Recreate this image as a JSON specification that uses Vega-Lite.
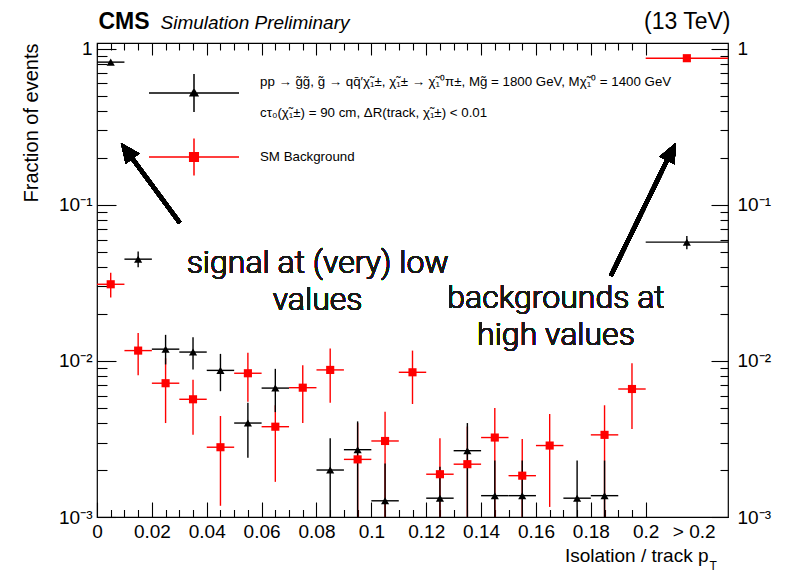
{
  "$schema": "https://vega.github.io/schema/vega-lite/v6.json",
  "width": 631,
  "height": 474,
  "autosize": {"type": "none"},
  "padding": {"left": 97, "top": 43, "right": 58, "bottom": 55},
  "background": "white",
  "config": {
    "view": {"stroke": "black", "strokeWidth": 1.2},
    "axis": {"grid": false, "domain": false, "labelFont": "Liberation Sans", "titleFont": "Liberation Sans", "labelColor": "black", "titleColor": "black", "tickColor": "black", "tickWidth": 1.1},
    "legend": {"labelFont": "Liberation Sans"}
  },
  "data": {
    "values": [
      {"series": "background", "x": 0.005, "xlo": 0.0, "xhi": 0.01, "y": 0.031, "ylo": 0.0255, "yhi": 0.0368},
      {"series": "background", "x": 0.015, "xlo": 0.01, "xhi": 0.02, "y": 0.01165, "ylo": 0.0081, "yhi": 0.0151},
      {"series": "background", "x": 0.025, "xlo": 0.02, "xhi": 0.03, "y": 0.0072, "ylo": 0.004, "yhi": 0.0104},
      {"series": "background", "x": 0.035, "xlo": 0.03, "xhi": 0.04, "y": 0.00568, "ylo": 0.00336, "yhi": 0.00758},
      {"series": "background", "x": 0.045, "xlo": 0.04, "xhi": 0.05, "y": 0.0028, "ylo": 0.00118, "yhi": 0.00444},
      {"series": "background", "x": 0.055, "xlo": 0.05, "xhi": 0.06, "y": 0.00834, "ylo": 0.00548, "yhi": 0.0113},
      {"series": "background", "x": 0.065, "xlo": 0.06, "xhi": 0.07, "y": 0.00379, "ylo": 0.00168, "yhi": 0.0052},
      {"series": "background", "x": 0.075, "xlo": 0.07, "xhi": 0.08, "y": 0.00674, "ylo": 0.004, "yhi": 0.0094},
      {"series": "background", "x": 0.085, "xlo": 0.08, "xhi": 0.09, "y": 0.00876, "ylo": 0.0054, "yhi": 0.012},
      {"series": "background", "x": 0.095, "xlo": 0.09, "xhi": 0.1, "y": 0.00234, "ylo": 0.0008, "yhi": 0.004},
      {"series": "background", "x": 0.105, "xlo": 0.1, "xhi": 0.11, "y": 0.00307, "ylo": 0.0008, "yhi": 0.00473},
      {"series": "background", "x": 0.115, "xlo": 0.11, "xhi": 0.12, "y": 0.00846, "ylo": 0.0053, "yhi": 0.01165},
      {"series": "background", "x": 0.125, "xlo": 0.12, "xhi": 0.13, "y": 0.00188, "ylo": 0.0008, "yhi": 0.0032},
      {"series": "background", "x": 0.135, "xlo": 0.13, "xhi": 0.14, "y": 0.00218, "ylo": 0.0008, "yhi": 0.0038},
      {"series": "background", "x": 0.145, "xlo": 0.14, "xhi": 0.15, "y": 0.00323, "ylo": 0.0008, "yhi": 0.005},
      {"series": "background", "x": 0.155, "xlo": 0.15, "xhi": 0.16, "y": 0.00184, "ylo": 0.0008, "yhi": 0.00316},
      {"series": "background", "x": 0.165, "xlo": 0.16, "xhi": 0.17, "y": 0.00287, "ylo": 0.00116, "yhi": 0.00457},
      {"series": "background", "x": 0.185, "xlo": 0.18, "xhi": 0.19, "y": 0.00336, "ylo": 0.0008, "yhi": 0.0052},
      {"series": "background", "x": 0.195, "xlo": 0.19, "xhi": 0.2, "y": 0.00661, "ylo": 0.00366, "yhi": 0.00967},
      {"series": "background", "x": 0.215, "xlo": 0.2, "xhi": 0.23, "y": 0.871, "ylo": 0.86, "yhi": 0.882},
      {"series": "signal", "x": 0.005, "xlo": 0.0, "xhi": 0.01, "y": 0.822, "ylo": 0.81, "yhi": 0.835},
      {"series": "signal", "x": 0.015, "xlo": 0.01, "xhi": 0.02, "y": 0.0449, "ylo": 0.0398, "yhi": 0.0502},
      {"series": "signal", "x": 0.025, "xlo": 0.02, "xhi": 0.03, "y": 0.0119, "ylo": 0.0095, "yhi": 0.0147},
      {"series": "signal", "x": 0.035, "xlo": 0.03, "xhi": 0.04, "y": 0.0114, "ylo": 0.0088, "yhi": 0.0142},
      {"series": "signal", "x": 0.045, "xlo": 0.04, "xhi": 0.05, "y": 0.0087, "ylo": 0.0064, "yhi": 0.0111},
      {"series": "signal", "x": 0.055, "xlo": 0.05, "xhi": 0.06, "y": 0.004, "ylo": 0.0024, "yhi": 0.0054},
      {"series": "signal", "x": 0.065, "xlo": 0.06, "xhi": 0.07, "y": 0.0067, "ylo": 0.0047, "yhi": 0.0089},
      {"series": "signal", "x": 0.085, "xlo": 0.08, "xhi": 0.09, "y": 0.002, "ylo": 0.0008, "yhi": 0.0032},
      {"series": "signal", "x": 0.095, "xlo": 0.09, "xhi": 0.1, "y": 0.0027, "ylo": 0.0008, "yhi": 0.0041},
      {"series": "signal", "x": 0.105, "xlo": 0.1, "xhi": 0.11, "y": 0.00127, "ylo": 0.0008, "yhi": 0.0022},
      {"series": "signal", "x": 0.125, "xlo": 0.12, "xhi": 0.13, "y": 0.00132, "ylo": 0.0008, "yhi": 0.0021},
      {"series": "signal", "x": 0.135, "xlo": 0.13, "xhi": 0.14, "y": 0.00266, "ylo": 0.0008, "yhi": 0.004},
      {"series": "signal", "x": 0.145, "xlo": 0.14, "xhi": 0.15, "y": 0.00137, "ylo": 0.0008, "yhi": 0.0023},
      {"series": "signal", "x": 0.155, "xlo": 0.15, "xhi": 0.16, "y": 0.00137, "ylo": 0.0008, "yhi": 0.0023},
      {"series": "signal", "x": 0.175, "xlo": 0.17, "xhi": 0.18, "y": 0.00132, "ylo": 0.0008, "yhi": 0.0023},
      {"series": "signal", "x": 0.185, "xlo": 0.18, "xhi": 0.19, "y": 0.00137, "ylo": 0.0008, "yhi": 0.0023},
      {"series": "signal", "x": 0.215, "xlo": 0.2, "xhi": 0.23, "y": 0.0577, "ylo": 0.052, "yhi": 0.0633}
    ]
  },
  "resolve": {
    "axis": {"x": "independent", "y": "independent"},
    "scale": {"shape": "independent", "fill": "independent", "stroke": "independent"}
  },
  "layer": [
    {
      "mark": {"type": "rule", "strokeWidth": 1.4, "clip": true},
      "encoding": {
        "x": {"field": "xlo", "type": "quantitative", "scale": {"type": "linear", "domain": [0, 0.23], "nice": false, "zero": false},
          "axis": {"orient": "bottom", "offset": -15, "tickSize": 15, "values": [0, 0.02, 0.04, 0.06, 0.08, 0.1, 0.12, 0.14, 0.16, 0.18, 0.2, 0.2175],
            "labelExpr": "datum.value > 0.201 ? '> 0.2' : format(datum.value, '~g')", "labelFontSize": 19, "labelPadding": 5, "labelOverlap": false, "labelFlush": false,
            "tickOpacity": {"condition": {"test": "datum.value > 0.201", "value": 0}, "value": 1},
            "title": "Isolation / track p", "titleFontSize": 19, "titleFontWeight": "normal", "titleAlign": "right", "titleAnchor": "end", "titleBaseline": "alphabetic", "titleX": 611, "titleY": 59}},
        "x2": {"field": "xhi"},
        "y": {"field": "y", "type": "quantitative", "scale": {"type": "log", "domain": [0.001, 1.09], "nice": false},
          "axis": {"orient": "left", "offset": -19, "tickSize": 19, "values": [0.001, 0.01, 0.1, 1],
            "labelExpr": "datum.value > 0.5 ? '1' : datum.value > 0.05 ? '10⁻¹' : datum.value > 0.005 ? '10⁻²' : '10⁻³'", "labelFontSize": 19, "labelPadding": 5, "labelOverlap": false, "labelFlush": false,
            "title": "Fraction of events", "titleFontSize": 20, "titleFontWeight": "normal", "titleAngle": 270, "titleAlign": "right", "titleBaseline": "alphabetic", "titleX": -79, "titleY": 0}},
        "color": {"field": "series", "type": "nominal", "scale": {"domain": ["signal", "background"], "range": ["black", "#ff0000"]}, "legend": null}
      }
    },
    {
      "mark": {"type": "rule", "strokeWidth": 1.4, "clip": true},
      "encoding": {
        "x": {"field": "x", "type": "quantitative", "scale": {"type": "linear", "domain": [0, 0.23], "nice": false, "zero": false},
          "axis": {"orient": "bottom", "offset": -7.5, "tickSize": 7.5, "labels": false,
            "values": [0.005, 0.01, 0.015, 0.025, 0.03, 0.035, 0.045, 0.05, 0.055, 0.065, 0.07, 0.075, 0.085, 0.09, 0.095, 0.105, 0.11, 0.115, 0.125, 0.13, 0.135, 0.145, 0.15, 0.155, 0.165, 0.17, 0.175, 0.185, 0.19, 0.195],
            "title": "T", "titleFontSize": 12, "titleFontWeight": "normal", "titleAlign": "left", "titleAnchor": "end", "titleBaseline": "alphabetic", "titleX": 612, "titleY": 59.5}},
        "y": {"field": "ylo", "type": "quantitative", "scale": {"type": "log", "domain": [0.001, 1.09], "nice": false},
          "axis": {"orient": "left", "offset": -10, "tickSize": 10, "labels": false, "title": null,
            "values": [0.002, 0.003, 0.004, 0.005, 0.006, 0.007, 0.008, 0.009, 0.02, 0.03, 0.04, 0.05, 0.06, 0.07, 0.08, 0.09, 0.2, 0.3, 0.4, 0.5, 0.6, 0.7, 0.8, 0.9]}},
        "y2": {"field": "yhi"},
        "color": {"field": "series", "type": "nominal", "scale": {"domain": ["signal", "background"], "range": ["black", "#ff0000"]}, "legend": null}
      }
    },
    {
      "mark": {"type": "point", "filled": true, "opacity": 1, "size": 66, "strokeWidth": 0},
      "encoding": {
        "x": {"field": "x", "type": "quantitative", "scale": {"type": "linear", "domain": [0, 0.23], "nice": false, "zero": false},
          "axis": {"orient": "top", "offset": -12, "tickSize": 12, "labels": false, "values": [0, 0.02, 0.04, 0.06, 0.08, 0.1, 0.12, 0.14, 0.16, 0.18, 0.2],
            "title": "(13 TeV)", "titleFontSize": 23, "titleFontWeight": "normal", "titleAlign": "right", "titleAnchor": "end", "titleBaseline": "alphabetic", "titleX": 633, "titleY": -27}},
        "y": {"field": "y", "type": "quantitative", "scale": {"type": "log", "domain": [0.001, 1.09], "nice": false},
          "axis": {"orient": "right", "offset": -17, "tickSize": 17, "values": [0.001, 0.01, 0.1, 1],
            "labelExpr": "datum.value > 0.5 ? '1' : datum.value > 0.05 ? '10⁻¹' : datum.value > 0.005 ? '10⁻²' : '10⁻³'", "labelFontSize": 19, "labelPadding": 9, "labelOverlap": false, "labelFlush": false, "title": null}},
        "shape": {"field": "series", "type": "nominal", "scale": {"domain": ["signal", "background"], "range": ["triangle-up", "square"]}, "legend": null},
        "color": {"field": "series", "type": "nominal", "scale": {"domain": ["signal", "background"], "range": ["black", "#ff0000"]}, "legend": null}
      }
    },
    {
      "mark": {"type": "text", "font": "Roboto", "fontWeight": 300, "fontSize": 32, "color": "#1a1a1a", "align": "center", "baseline": "alphabetic", "lineHeight": 37},
      "encoding": {
        "x": {"datum": 0.0804, "type": "quantitative", "scale": {"type": "linear", "domain": [0, 0.23], "nice": false, "zero": false},
          "axis": {"orient": "top", "offset": -7, "tickSize": 7, "labels": false,
            "values": [0.005, 0.01, 0.015, 0.025, 0.03, 0.035, 0.045, 0.05, 0.055, 0.065, 0.07, 0.075, 0.085, 0.09, 0.095, 0.105, 0.11, 0.115, 0.125, 0.13, 0.135, 0.145, 0.15, 0.155, 0.165, 0.17, 0.175, 0.185, 0.19, 0.195],
            "title": "CMS", "titleFontSize": 23, "titleFontWeight": "bold", "titleAlign": "left", "titleAnchor": "start", "titleBaseline": "alphabetic", "titleX": 1, "titleY": -22}},
        "y": {"datum": 0.0366, "type": "quantitative", "scale": {"type": "log", "domain": [0.001, 1.09], "nice": false},
          "axis": {"orient": "right", "offset": -8, "tickSize": 8, "labels": false, "title": null,
            "values": [0.002, 0.003, 0.004, 0.005, 0.006, 0.007, 0.008, 0.009, 0.02, 0.03, 0.04, 0.05, 0.06, 0.07, 0.08, 0.09, 0.2, 0.3, 0.4, 0.5, 0.6, 0.7, 0.8, 0.9]}},
        "text": {"value": ["signal at (very) low", "values"]}
      }
    },
    {
      "mark": {"type": "text", "font": "Roboto", "fontWeight": 300, "fontSize": 32, "color": "#1a1a1a", "align": "center", "baseline": "alphabetic", "lineHeight": 37},
      "encoding": {
        "x": {"datum": 0.1673, "type": "quantitative", "scale": {"type": "linear", "domain": [0, 0.23], "nice": false, "zero": false},
          "axis": {"orient": "top", "ticks": false, "labels": false, "domain": false,
            "title": "Simulation Preliminary", "titleFontSize": 19, "titleFontStyle": "italic", "titleFontWeight": "normal", "titleAlign": "left", "titleAnchor": "start", "titleBaseline": "alphabetic", "titleX": 63, "titleY": -15}},
        "y": {"datum": 0.0219, "type": "quantitative", "scale": {"type": "log", "domain": [0.001, 1.09], "nice": false}, "axis": null},
        "text": {"value": ["backgrounds at", "high values"]}
      }
    },
    {
      "mark": {"type": "rule", "strokeWidth": 4, "color": "black", "strokeCap": "butt"},
      "encoding": {
        "x": {"datum": 0.03018, "type": "quantitative", "scale": {"type": "linear", "domain": [0, 0.23], "nice": false, "zero": false}, "axis": null},
        "y": {"datum": 0.07665, "type": "quantitative", "scale": {"type": "log", "domain": [0.001, 1.09], "nice": false}, "axis": null},
        "x2": {"datum": 0.01131},
        "y2": {"datum": 0.2164}
      }
    },
    {
      "mark": {"type": "rule", "strokeWidth": 4, "color": "black", "strokeCap": "butt"},
      "encoding": {
        "x": {"datum": 0.18727, "type": "quantitative", "scale": {"type": "linear", "domain": [0, 0.23], "nice": false, "zero": false}, "axis": null},
        "y": {"datum": 0.03507, "type": "quantitative", "scale": {"type": "log", "domain": [0.001, 1.09], "nice": false}, "axis": null},
        "x2": {"datum": 0.20898},
        "y2": {"datum": 0.213}
      }
    },
    {
      "mark": {"type": "point", "shape": "M0,0L-0.5,1.15L0.5,1.15Z", "filled": true, "color": "black", "opacity": 1, "size": 1156, "strokeWidth": 0, "angle": 323.6},
      "encoding": {
        "x": {"datum": 0.008727, "type": "quantitative", "scale": {"type": "linear", "domain": [0, 0.23], "nice": false, "zero": false}, "axis": null},
        "y": {"datum": 0.2496, "type": "quantitative", "scale": {"type": "log", "domain": [0.001, 1.09], "nice": false}, "axis": null}
      }
    },
    {
      "mark": {"type": "point", "shape": "M0,0L-0.5,1.15L0.5,1.15Z", "filled": true, "color": "black", "opacity": 1, "size": 1156, "strokeWidth": 0, "angle": 26.0},
      "encoding": {
        "x": {"datum": 0.21091, "type": "quantitative", "scale": {"type": "linear", "domain": [0, 0.23], "nice": false, "zero": false}, "axis": null},
        "y": {"datum": 0.2496, "type": "quantitative", "scale": {"type": "log", "domain": [0.001, 1.09], "nice": false}, "axis": null}
      }
    },
    {
      "mark": {"type": "point", "filled": true, "opacity": 0},
      "encoding": {
        "x": {"field": "x", "type": "quantitative", "scale": {"type": "linear", "domain": [0, 0.23], "nice": false, "zero": false}, "axis": null},
        "y": {"field": "y", "type": "quantitative", "scale": {"type": "log", "domain": [0.001, 1.09], "nice": false}, "axis": null},
        "shape": {"field": "series", "type": "nominal",
          "scale": {"domain": ["signal", "background"], "range": ["M-4.5,1.1H4.5M0,-0.8V3.0M-0.38,1.38L0.38,1.38L0,0.72Z", "M-4.5,0H4.5M0,-1.85V1.85M-0.43,-0.43H0.43V0.43H-0.43Z"]},
          "legend": {"orient": "none", "legendX": 86, "legendY": 28, "title": null, "padding": 0, "symbolSize": 400, "symbolStrokeWidth": 1.5, "symbolOpacity": 1,
            "labelFont": "Liberation Sans", "labelFontSize": 13.3, "labelColor": "black", "labelOffset": 55, "labelLimit": 800, "rowPadding": 15,
            "encoding": {"labels": {"lineHeight": {"value": 31}}},
            "labelExpr": "datum.value == 'signal' ? ['pp → g̃g̃, g̃ → qq̄′χ̃₁±, χ̃₁± → χ̃₁⁰π±, Mg̃ = 1800 GeV, Mχ̃₁⁰ =  1400 GeV', 'cτ₀(χ̃₁±) = 90 cm, ΔR(track, χ̃₁±) < 0.01'] : 'SM Background'"}},
        "fill": {"field": "series", "type": "nominal", "scale": {"domain": ["signal", "background"], "range": ["black", "#ff0000"]}},
        "stroke": {"field": "series", "type": "nominal", "scale": {"domain": ["signal", "background"], "range": ["black", "#ff0000"]}}
      }
    }
  ]
}
